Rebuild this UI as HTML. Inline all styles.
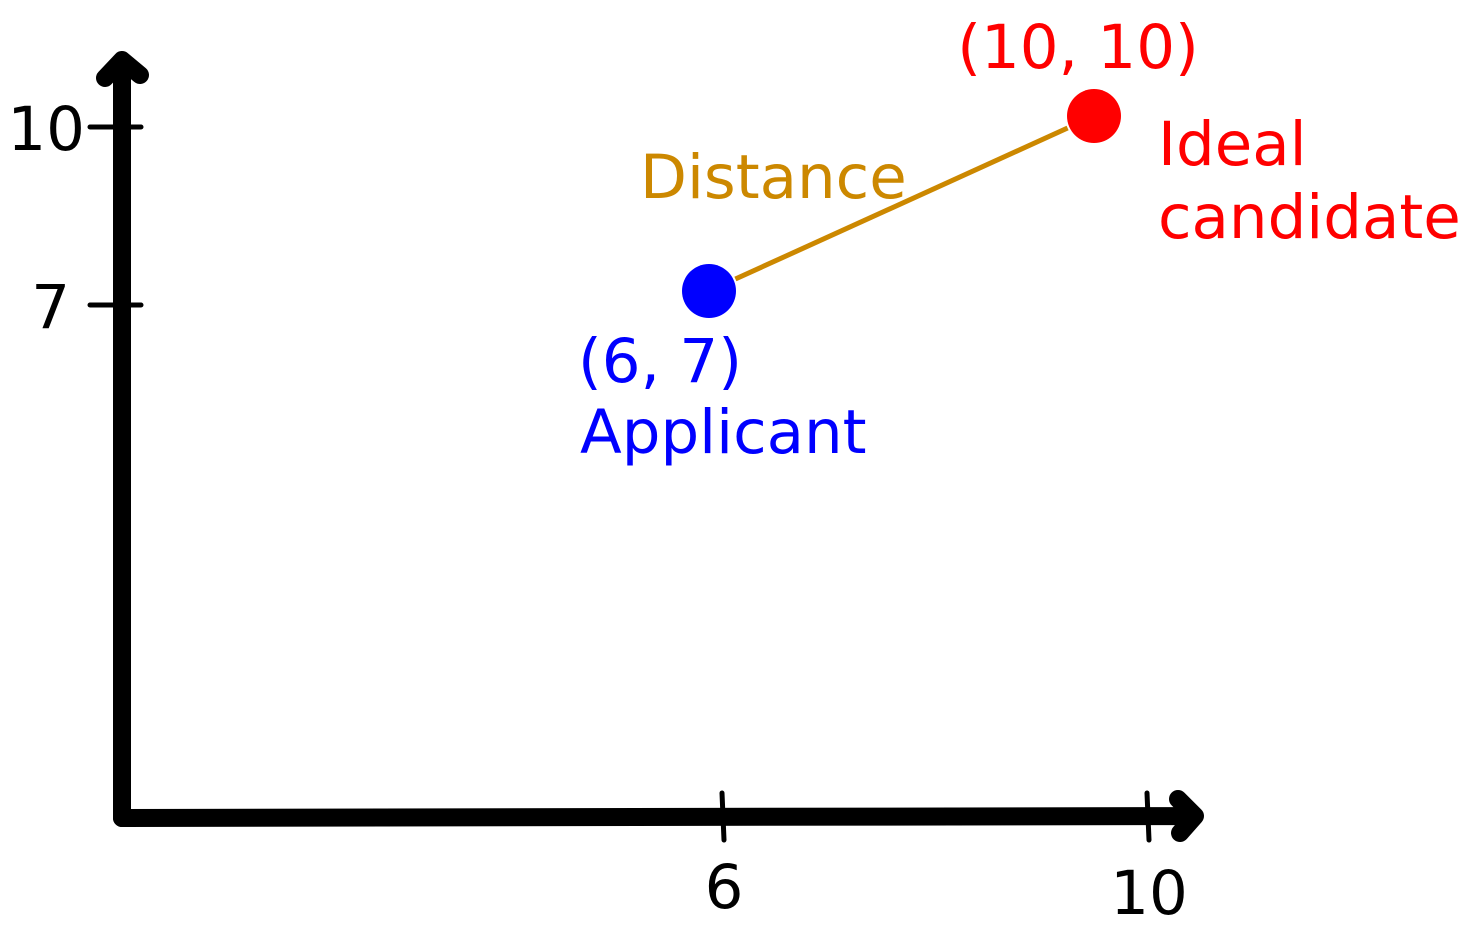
<!DOCTYPE html>
<html><head><meta charset="utf-8"><style>
html,body{margin:0;padding:0;background:#fff;}
svg{display:block;font-family:"DejaVu Sans","Liberation Sans",sans-serif;}
</style></head><body>
<svg id="chart" width="1474" height="928" viewBox="0 0 1474 928" xmlns="http://www.w3.org/2000/svg">
<g id="axes"></g>
<g id="marks"></g>
</svg>
<script>
const xTicks = [6, 10];
const yTicks = [7, 10];
const xTickLabels = ["6", "10"];
const yTickLabels = ["7", "10"];
const pointNames = ["applicant", "ideal-candidate"];
const pointX = [6, 10];
const pointY = [7, 10];
const pointColors = ["#0000ff", "#ff0000"];

const NS = "http://www.w3.org/2000/svg";
const X0 = 122, Y0 = 818;
function xs(v){ return 84.5 + v * 106.25; }
function ys(v){ return 720.33 - v * 59.33; }
function mk(tag, attrs, parent, text){
  const e = document.createElementNS(NS, tag);
  for (const k in attrs) e.setAttribute(k, attrs[k]);
  if (text !== undefined) e.textContent = text;
  parent.appendChild(e); return e;
}
const axes = document.getElementById('axes');
const marks = document.getElementById('marks');
const st = {stroke:"#000","stroke-width":18,"stroke-linecap":"round","stroke-linejoin":"round",fill:"none"};
let a = mk('path', Object.assign({d:`M${X0} ${Y0} L${X0} 62 M105 78 L${X0} 60 L140 75`}, st), axes);


a = mk('path', Object.assign({d:`M${X0} ${Y0} L1193 816 M1178 799 L1195 816 L1180 833`}, st), axes);


xTicks.forEach((t,i)=>{
  const x = xs(t);
  const l = mk('line', {x1:x, y1:793, x2:x+2, y2:840, stroke:"#000","stroke-width":5,"stroke-linecap":"round"}, axes);
  
  
  const tx = mk('text', {x:x+2, y:i==0?908:914, "font-size":61, "text-anchor":"middle", fill:"#000"}, axes, xTickLabels[i]);
  
  
});
yTicks.forEach((t,i)=>{
  const y = ys(t);
  const l = mk('line', {x1:90, y1:y, x2:141, y2:y, stroke:"#000","stroke-width":5,"stroke-linecap":"round"}, axes);
  
  
  const tx = mk('text', {x:yTickLabels[i].length==1?70:85, y:y+23, "font-size":61, "text-anchor":"end", fill:"#000"}, axes, yTickLabels[i]);
  
  
});
const p1 = [xs(pointX[0])-13, ys(pointY[0])-14], p2 = [xs(pointX[1])-53, ys(pointY[1])-11];
const dx = p2[0]-p1[0], dy = p2[1]-p1[1], L = Math.hypot(dx,dy), r = 29;
const dl = mk('line', {x1:p1[0]+dx/L*r, y1:p1[1]+dy/L*r, x2:p2[0]-dx/L*r, y2:p2[1]-dy/L*r, stroke:"#cc8800","stroke-width":5}, marks);


[p1,p2].forEach((p,i)=>{
  const c = mk('circle', {cx:p[0], cy:p[1], r:27, fill:pointColors[i]}, marks);
  
  
});
const labels = [
  ["(10, 10)", 1078, 68, "#ff0000", "middle", "ideal-coordinate-label"],
  ["Ideal", 1158, 165, "#ff0000", "start", "ideal-label"],
  ["candidate", 1158, 238, "#ff0000", "start", "candidate-label"],
  ["Distance", 640, 198, "#cc8800", "start", "distance-label"],
  ["(6, 7)", 578, 382, "#0000ff", "start", "applicant-coordinate-label"],
  ["Applicant", 580, 453, "#0000ff", "start", "applicant-label"]
];
labels.forEach(l=>{
  const t = mk('text', {x:l[1], y:l[2], "font-size":61, fill:l[3], "text-anchor":l[4]}, marks, l[0]);
  
  
});
</script>
</body></html>
